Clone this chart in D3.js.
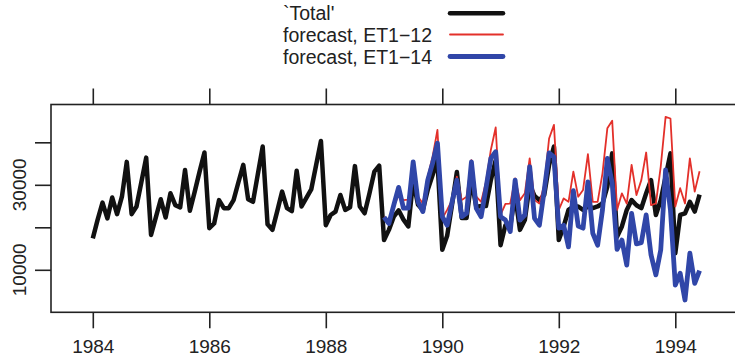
<!DOCTYPE html>
<html>
<head>
<meta charset="utf-8">
<script src="https://cdn.jsdelivr.net/npm/d3@7"></script>
<style>
  body { margin: 0; background: #fff; }
  svg { display: block; }
  text { font-family: "Liberation Sans", Arial, Helvetica, sans-serif; fill: #222; }
</style>
</head>
<body>
<figure id="chart" style="margin:0"></figure>
<script>
// monthly series, Jan 1984 .. Jun 1994
const startYear = 1984;
const total = [
  17400, 21800, 25800, 22100, 27000, 23100, 27200, 35400, 23100, 24900, 30600, 36400,
  18200, 22400, 26600, 22300, 28000, 25200, 24700, 33500, 23900, 28400, 33100, 37600,
  19800, 20900, 26400, 24500, 24500, 26400, 30600, 34700, 26600, 26000, 32500, 39000,
  20700, 19400, 23800, 28400, 24500, 23800, 33300, 24900, 26900, 28900, 34600, 40300,
  20500, 22900, 23700, 27600, 24100, 24700, 34400, 24900, 23300, 28000, 33100, 34500,
  17000, 19400, 22500, 24000, 21800, 20200, 31000, 25300, 24100, 28800, 32300, 35800,
  14700, 18000, 25300, 33000, 22200, 22200, 31100, 24800, 25000, 25000, 31100, 35800,
  15800, 20500, 20300, 27600, 19400, 21700, 30000, 27400, 26400, 27600, 34700, 39000,
  17000, 20200, 24100, 24900, 24900, 24100, 24900, 24500, 24900, 25600, 29600, 37400,
  17800, 20200, 24100, 26400, 25200, 24500, 28000, 31100, 22900, 26400, 31900, 37400,
  13900, 22900, 23300, 26000, 23700, 27700
];
// forecasts start Jan 1989
const forecastStart = 60;
const et12 = [
  22400, 21700, 25000, 27500, 26400, 26500, 35400, 27200, 25600, 31900, 36600, 42900,
  22100, 24100, 26400, 31900, 26400, 27200, 35800, 27200, 26000, 30700, 38200, 43500,
  22900, 25500, 25600, 31500, 26400, 28000, 36200, 26400, 25600, 30000, 40900, 44100,
  24100, 26800, 26000, 33100, 27200, 28800, 37200, 26000, 26000, 32700, 43300, 45100,
  24100, 28000, 25600, 34700, 27600, 31100, 37600, 25200, 25600, 34300, 46000, 45600,
  24900, 29200, 25600, 36200, 28400, 33200
];
const et14 = [
  22400, 20900, 25200, 29400, 24500, 24500, 35400, 26000, 23700, 31100, 35100, 39800,
  22500, 20500, 25900, 31100, 22500, 23300, 35400, 24500, 22500, 29200, 36200, 37800,
  22500, 21700, 19000, 31100, 21700, 22900, 34300, 22100, 20500, 28700, 37500, 36600,
  19800, 20500, 15400, 28600, 20300, 19800, 30700, 18600, 15800, 24100, 36200, 30400,
  14800, 17000, 11100, 23300, 16100, 16400, 22900, 13500, 8800, 14700, 33500, 24100,
  6400, 9200, 2900, 13900, 6800, 9800
];
const xTicks = [1984, 1986, 1988, 1990, 1992, 1994];
const yTicks = [10000, 20000, 30000, 40000];
const yLabels = [10000, 30000];
const legendItems = [
  { label: "`Total'", color: "#111111", width: 4.5 },
  { label: "forecast, ET1\u221212", color: "#e3302a", width: 1.8 },
  { label: "forecast, ET1\u221214", color: "#3046a8", width: 4.8 }
];

const W = 735, H = 361;
const box = { left: 51, top: 104.5, right: 745, bottom: 312.3 };

const svg = d3.select("#chart").append("svg")
  .attr("width", W)
  .attr("height", H);

const x = d3.scaleLinear().domain([1984, 1994]).range([92.8, 675.3]);
const y = d3.scaleLinear().domain([0, 48900]).range([box.bottom, box.top]);

const toPoints = (arr, offset) => arr.map((v, i) => ({ t: startYear + (i + offset) / 12, v: v }));
const line = d3.line().x(d => x(d.t)).y(d => y(d.v));

const plot = svg.append("g");
plot.append("path")
  .attr("d", line(toPoints(total, 0)))
  .attr("fill", "none").attr("stroke", legendItems[0].color)
  .attr("stroke-width", legendItems[0].width).attr("stroke-linejoin", "round");
plot.append("path")
  .attr("d", line(toPoints(et12, forecastStart)))
  .attr("fill", "none").attr("stroke", legendItems[1].color)
  .attr("stroke-width", legendItems[1].width).attr("stroke-linejoin", "round");
plot.append("path")
  .attr("d", line(toPoints(et14, forecastStart)))
  .attr("fill", "none").attr("stroke", legendItems[2].color)
  .attr("stroke-width", legendItems[2].width).attr("stroke-linejoin", "round");

// frame (right side runs off the picture)
svg.append("rect")
  .attr("x", box.left).attr("y", box.top)
  .attr("width", box.right - box.left).attr("height", box.bottom - box.top)
  .attr("fill", "none").attr("stroke", "#222").attr("stroke-width", 1.6);

// bottom axis
const bottomAxis = svg.append("g")
  .attr("transform", `translate(0,${box.bottom})`)
  .call(d3.axisBottom(x).tickValues(xTicks).tickFormat(d3.format("d")).tickSize(16).tickPadding(11));
bottomAxis.select(".domain").remove();
bottomAxis.selectAll("line").attr("stroke", "#222").attr("stroke-width", 1.6);
bottomAxis.selectAll("text").attr("font-size", "19px").attr("fill", "#222")
  .attr("font-family", "'Liberation Sans', Arial, sans-serif");

// top axis, ticks only
const topAxis = svg.append("g")
  .attr("transform", `translate(0,${box.top})`)
  .call(d3.axisTop(x).tickValues(xTicks).tickFormat("").tickSize(16));
topAxis.select(".domain").remove();
topAxis.selectAll("line").attr("stroke", "#222").attr("stroke-width", 1.6);

// left axis
const leftAxis = svg.append("g")
  .attr("transform", `translate(${box.left},0)`)
  .call(d3.axisLeft(y).tickValues(yTicks).tickFormat("").tickSize(16));
leftAxis.select(".domain").remove();
leftAxis.selectAll("line").attr("stroke", "#222").attr("stroke-width", 1.6);

svg.selectAll(".ylab")
  .data(yLabels)
  .enter()
  .append("text")
  .attr("class", "ylab")
  .attr("transform", d => `translate(26,${y(d)}) rotate(-90)`)
  .attr("text-anchor", "middle")
  .attr("font-size", "19px")
  .text(d => d);

// legend
const legend = svg.append("g");
const rowY = [13.3, 34.5, 56.5];
legendItems.forEach((item, i) => {
  legend.append("text")
    .attr("x", 283)
    .attr("y", rowY[i] + 7)
    .attr("font-size", "19.5px")
    .text(item.label);
  legend.append("line")
    .attr("x1", 450).attr("x2", 503)
    .attr("y1", rowY[i]).attr("y2", rowY[i])
    .attr("stroke", item.color)
    .attr("stroke-width", item.width)
    .attr("stroke-linecap", "round");
});
</script>
</body>
</html>
